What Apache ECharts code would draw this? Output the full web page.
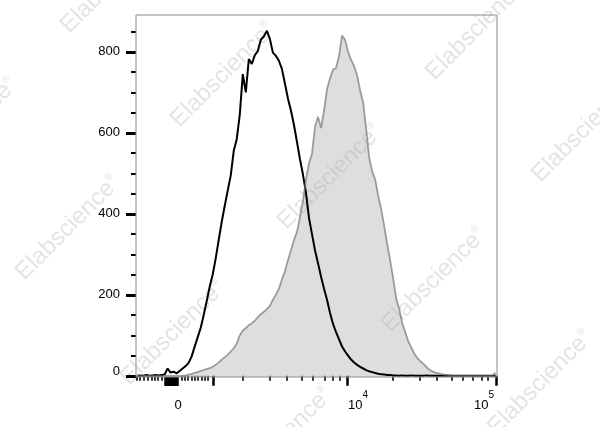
<!DOCTYPE html>
<html>
<head>
<meta charset="utf-8">
<script src="https://cdn.jsdelivr.net/npm/echarts@6/dist/echarts.min.js"></script>
<style>html,body{margin:0;padding:0;background:#fff;}#c{width:600px;height:427px;}</style>
</head>
<body>
<div id="c"></div>
<script>
// Histogram counts on a uniform display-scale (biexponential) channel axis, 120 bins
var binCount = 120;
var unstainedCounts = [
  0,1,0,2,0,1,2,1,2,3,
  18,8,10,6,12,18,24,32,48,72,
  95,118,150,184,220,250,290,336,380,420,
  458,495,556,585,645,745,700,782,770,792,
  802,830,838,852,832,798,790,778,758,722,
  685,655,620,578,535,497,452,390,350,310,
  278,245,215,188,155,128,108,90,72,60,
  50,40,33,27,22,18,14,11,9,7,
  5,4,3,2,2,1,1,0,1,0,
  0,1,0,0,0,0,1,0,0,0,
  0,0,0,0,0,0,0,0,0,0,
  0,0,0,0,0,0,0,0,0,0
];
var stainedCounts = [
  0,0,0,0,0,0,0,0,0,0,
  0,0,0,0,0,0,1,3,5,7,
  9,12,14,17,19,22,27,33,40,46,
  52,60,68,80,100,112,118,125,130,136,
  145,152,158,165,172,188,200,215,238,258,
  285,310,335,355,392,432,485,525,548,615,
  640,612,655,708,735,756,760,790,840,830,
  800,780,765,742,705,675,610,540,505,485,
  445,412,370,325,285,240,190,165,130,108,
  85,70,55,44,36,30,22,15,11,8,
  6,4,3,2,1,0,0,0,0,0,
  0,0,0,0,0,0,0,0,0,8
];
// Axis ticks (in channel units)
var xMajorTicks = [25.6, 70.1, 119.8];
var xMinorTicks = [0.33, 1.33, 2.66, 3.99, 5.32, 6.32, 7.31, 8.64,
  15.29, 16.29, 17.29, 18.62, 19.61, 20.61, 21.94, 22.94, 23.93,
  35.6, 44.5, 50.2, 55.2, 58.8, 62.8, 65.5, 67.8,
  85.4, 94.4, 100.1, 105.0, 108.7, 112.0, 115.0, 117.0];
var xZeroTicks = [9.64, 9.97, 10.31, 10.64, 10.97, 11.30, 11.64, 11.97, 12.30, 12.63, 12.96, 13.30, 13.63, 13.96];
var xLabelPos = [13.96, 73.8, 115.7];
var xLabelText = ['{b|0}', '{b|10}{s|4}', '{b|10}{s|5}'];
var yMajorTicks = [0, 200, 400, 600, 800];
var yMinorTicks = [50, 100, 150, 250, 300, 350, 450, 500, 550, 650, 700, 750, 850];
var watermarkPos = [[113,-19],[-35,130],[223,75],[478,28],[584,130],[330,177],[68,228],[173,333],[434,280],[540,383],[280,440]];

var FONT = "'Liberation Sans', Arial, Helvetica, sans-serif";
function toPairs(arr){ return arr.map(function(v,i){ return [i+0.5, v]; }); }

var chart = echarts.init(document.getElementById('c'), null, {renderer:'canvas'});
var baseX = {type:'value', min:0, max:binCount, gridIndex:0, position:'bottom',
  splitLine:{show:false}, axisLine:{show:false}};
var baseY = {type:'value', min:-3, max:891, gridIndex:0, position:'left',
  splitLine:{show:false}, axisLine:{show:false}};

chart.setOption({
  animation:false,
  backgroundColor:'#fff',
  graphic: watermarkPos.map(function(p){
    return {type:'text', x:p[0], y:p[1], rotation:Math.PI/4, z:0, silent:true,
      style:{text:'Elabscience{r|®}', fontSize:24, fontFamily:FONT, fill:'#e4e4e4',
        align:'center', verticalAlign:'middle',
        rich:{r:{fontSize:10, fill:'#e4e4e4', verticalAlign:'top', padding:[0,0,12,0]}}}};
  }),
  grid:{left:136, right:103, top:15, bottom:50, show:true, borderColor:'#8a8a8a', borderWidth:1, backgroundColor:'transparent', z:3},
  xAxis:[
    Object.assign({}, baseX, {
      axisTick:{show:true, customValues:xMajorTicks, length:10, lineStyle:{color:'#000', width:2.5}},
      axisLabel:{show:true, customValues:xLabelPos, margin:13, fontSize:13, fontFamily:FONT, color:'#000',
        formatter:function(v){
          var best=0, d=1e9;
          for (var k=0;k<xLabelPos.length;k++){ var dd=Math.abs(xLabelPos[k]-v); if(dd<d){d=dd;best=k;} }
          return xLabelText[best];
        },
        rich:{
          b:{fontSize:13, fontFamily:FONT, color:'#000', verticalAlign:'bottom', padding:[9,0,0,0]},
          s:{fontSize:10, fontFamily:FONT, color:'#000', verticalAlign:'top', padding:[0,0,12,0]}
        }
      }
    }),
    Object.assign({}, baseX, {
      axisTick:{show:true, customValues:xMinorTicks, length:5, lineStyle:{color:'#000', width:1.6}},
      axisLabel:{show:false}
    }),
    Object.assign({}, baseX, {
      axisTick:{show:true, customValues:xZeroTicks, length:9, lineStyle:{color:'#000', width:1.5}},
      axisLabel:{show:false}
    })
  ],
  yAxis:[
    Object.assign({}, baseY, {
      axisTick:{show:true, customValues:yMajorTicks, length:10, lineStyle:{color:'#000', width:3}},
      axisLabel:{show:true, customValues:yMajorTicks, margin:16, fontSize:13, fontFamily:FONT, color:'#000',
        formatter:function(v){ return v===0 ? '{z|0}' : String(v); },
        rich:{z:{fontSize:13, fontFamily:FONT, color:'#000', padding:[0,0,8,0]}}
      }
    }),
    Object.assign({}, baseY, {
      axisTick:{show:true, customValues:yMinorTicks, length:5, lineStyle:{color:'#000', width:2}},
      axisLabel:{show:false}
    })
  ],
  series:[
    {name:'Unstained', type:'line', xAxisIndex:0, yAxisIndex:0, data:toPairs(unstainedCounts),
      symbol:'none', lineStyle:{color:'#000', width:2}, z:2},
    {name:'Stained', type:'line', xAxisIndex:0, yAxisIndex:0, data:toPairs(stainedCounts),
      symbol:'none', lineStyle:{color:'rgba(110,110,110,0.65)', width:1.8},
      areaStyle:{color:'rgba(170,170,170,0.56)', origin:'start'}, z:2}
  ]
});
</script>
</body>
</html>
